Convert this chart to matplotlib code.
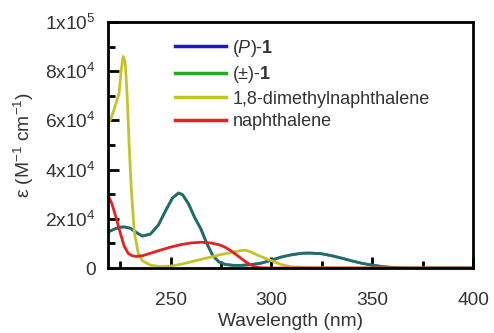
import numpy as np
import matplotlib
matplotlib.use('Agg')
import matplotlib.pyplot as plt
from matplotlib.ticker import MultipleLocator, FixedLocator, FixedFormatter

plt.rcParams['font.family'] = ['Liberation Sans', 'DejaVu Sans']
plt.rcParams['mathtext.fontset'] = 'custom'
plt.rcParams['mathtext.rm'] = 'Liberation Sans'
plt.rcParams['mathtext.it'] = 'Liberation Sans:italic'
plt.rcParams['mathtext.bf'] = 'Liberation Sans:bold'

# ---------------------------------DATA----------------------------------------

# (P)-1 and (+/-)-1 (the two spectra lie on top of each other)
wl_1 = [219, 222, 225, 227, 230, 233, 236, 240, 244, 248, 251, 254, 256,
        259, 262, 265, 268, 271, 274, 277, 281, 285, 290, 295, 300, 305,
        310, 315, 319, 325, 330, 335, 340, 345, 350, 355, 360, 365, 370,
        380, 390, 400]
eps_p1 = [14600, 15800, 16600, 16700, 16200, 14500, 13000, 13800, 17500,
          24000, 28500, 30500, 29800, 26000, 20500, 16000, 10000, 5000,
          2500, 1500, 1100, 1100, 1400, 2000, 3200, 4500, 5400, 6000, 6100,
          5800, 5000, 4000, 2900, 1900, 1200, 600, 250, 50, 0, 0, 0, 0]
eps_rac1 = eps_p1

# 1,8-dimethylnaphthalene
wl_dmn = [219, 221, 223, 224.5, 225.5, 226.5, 227.5, 228.5, 229.5, 230.5,
          232, 234, 236, 240, 245, 250, 255, 260, 265, 270, 275, 280, 284,
          287, 290, 293, 296, 300, 305, 310, 320, 340, 360, 380, 400]
eps_dmn = [58000, 62000, 67000, 71000, 80000, 86000, 84000, 70000, 50000,
           33000, 15000, 6000, 3000, 1200, 600, 800, 1500, 2500, 3500, 4500,
           5500, 6300, 7000, 7300, 6500, 5300, 4300, 3000, 1400, 500, 200,
           100, 0, 0, 0]

# naphthalene
wl_nap = [219, 221, 223, 225, 227, 229, 231, 233, 236, 240, 245, 250, 255,
          260, 265, 270, 274, 277, 280, 283, 286, 289, 292, 295, 300, 320,
          350, 400]
eps_nap = [29700, 26000, 20500, 14500, 9000, 6000, 5000, 4700, 5000, 6000,
           7300, 8500, 9500, 10200, 10500, 10200, 9500, 8500, 7000, 5200,
           3300, 1600, 500, 150, 0, 0, 0, 0]

labels = [r'($\it{P}$)-$\bf{1}$', r'($\pm$)-$\bf{1}$',
          '1,8-dimethylnaphthalene', 'naphthalene']

y_ticks = [0, 20000, 40000, 60000, 80000, 100000]
y_ticklabels = ['0', r'2x10$^4$', r'4x10$^4$', r'6x10$^4$', r'8x10$^4$',
                r'1x10$^5$']

# ---------------------------------PLOT----------------------------------------

fig = plt.figure(figsize=(4.94, 3.33), dpi=100)
ax = fig.add_axes([0.2186, 0.195, 0.739, 0.739])

ax.plot(wl_1, eps_p1, color='#1a1acc', lw=2, label=labels[0])
ax.plot(wl_1, eps_rac1, color='#22aa22', lw=2, alpha=0.6, label=labels[1])
ax.plot(wl_dmn, eps_dmn, color='#c4c42a', lw=2, label=labels[2])
ax.plot(wl_nap, eps_nap, color='#e82020', lw=2, label=labels[3])

ax.set_xlim(219, 400)
ax.set_ylim(0, 100000)

ax.xaxis.set_major_locator(FixedLocator([250, 300, 350, 400]))
ax.xaxis.set_minor_locator(FixedLocator([225, 275, 325, 375]))
ax.yaxis.set_major_locator(FixedLocator(y_ticks))
ax.yaxis.set_major_formatter(FixedFormatter(y_ticklabels))
ax.yaxis.set_minor_locator(MultipleLocator(10000))

ax.tick_params(which='both', direction='in', width=2, labelsize=13.8,
               colors='black', labelcolor='#333333')
ax.tick_params(which='major', length=8)
ax.tick_params(axis='x', which='major', pad=17)
ax.tick_params(axis='y', which='major', pad=9)
ax.tick_params(which='minor', length=5)
for s in ax.spines.values():
    s.set_linewidth(2)

ax.set_xlabel('Wavelength (nm)', fontsize=13.8, color='#333333', labelpad=3)
ax.set_ylabel(r'ε (M$^{-1}$ cm$^{-1}$)', fontsize=13.8, color='#333333',
              labelpad=6)

# legend shows the lines in their pure colours
leg = ax.legend(loc='upper left', bbox_to_anchor=(0.165, 0.965), frameon=False,
                fontsize=13, handlelength=2.8, handletextpad=0.35,
                labelspacing=0.3, borderaxespad=0)
for h in leg.get_lines():
    h.set_alpha(1)
    h.set_linewidth(2.5)
for t in leg.get_texts():
    t.set_color('#333333')

fig.savefig('out.png', dpi=100)
